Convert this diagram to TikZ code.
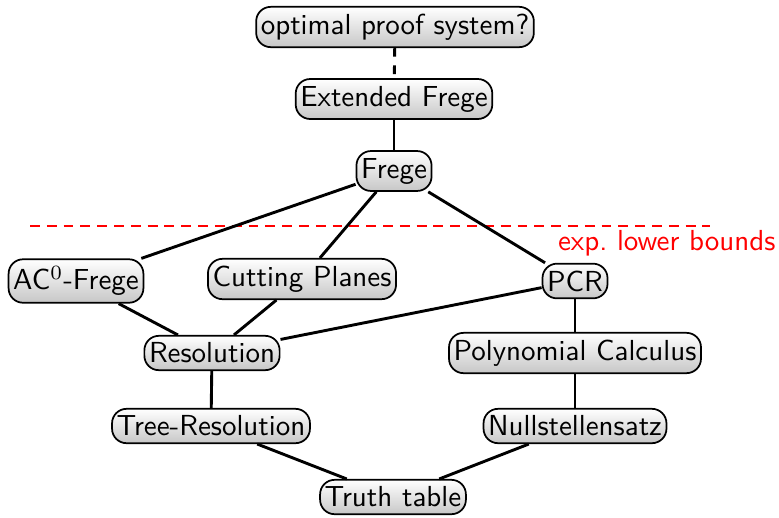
\documentclass[tikz,border=0pt]{standalone}
\begin{document}
\begin{tikzpicture}[x=0.345pt, y=-0.345pt,
		every node/.style = {font=\sffamily},
		system/.style = {draw, line width=0.6pt, rounded corners=5pt, inner xsep=1.6pt, inner ysep=2.4pt,
			top color=white, bottom color=black!22},
		edge/.style = {line width=1pt}]
		\useasboundingbox (0,0) rectangle (779,517);
		
		\node[system] (opt) at (395,27) {optimal proof system?};
		\node[system] (ef) at (394,99) {Extended Frege};
		\node[system] (frege) at (394,171) {Frege};
		\node[system] (ac0) at (76,281) {AC$^0$-Frege};
		\node[system] (cp) at (302,279) {Cutting Planes};
		\node[system] (pcr) at (575,281) {PCR};
		\node[system] (res) at (212,353) {Resolution};
		\node[system] (pc) at (575,353) {Polynomial Calculus};
		\node[system] (treeres) at (211,426) {Tree-Resolution};
		\node[system] (ns) at (575,426) {Nullstellensatz};
		\node[system] (tt) at (393,497) {Truth table};
		
		% lower bound line
		\coordinate (lbl) at (30,226);
		\coordinate (lbr) at (710,226);
		\draw[red, line width=1pt, dash pattern=on 3.4pt off 2.4pt] (lbl) -- (lbr);
		\node[red, anchor=east, inner sep=0pt] (lb) at (776,243) {exp.\ lower bounds};
		
		\draw[edge, dashed] (opt) -- (ef);
		\draw[edge] (ef) -- (frege);
		\draw[edge] (frege) -- (ac0);
		\draw[edge] (frege) -- (cp);
		\draw[edge] (frege) -- (pcr);
		\draw[edge] (ac0) -- (res);
		\draw[edge] (cp) -- (res);
		\draw[edge] (pcr) -- (res);
		\draw[edge] (pcr) -- (pc);
		\draw[edge] (pc) -- (ns);
		\draw[edge] (res) -- (treeres);
		\draw[edge] (treeres) -- (tt);
		\draw[edge] (ns) -- (tt);
\end{tikzpicture}
\end{document}
